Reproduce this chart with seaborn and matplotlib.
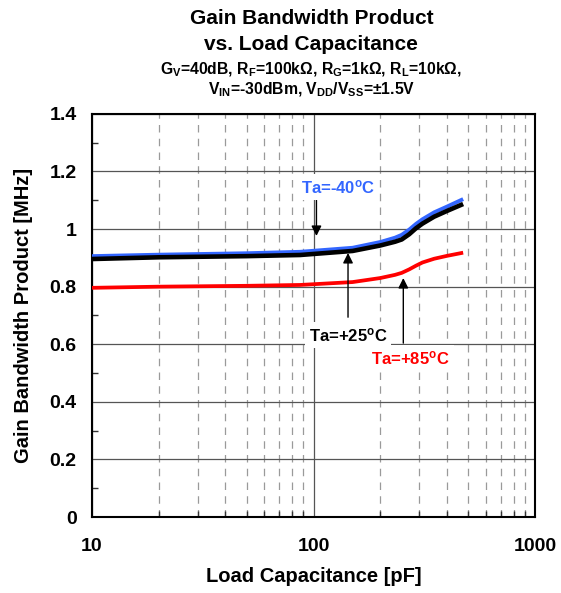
import numpy as np
import pandas as pd
import matplotlib
matplotlib.use("Agg")
import matplotlib.pyplot as plt
import seaborn as sns
from matplotlib.ticker import FixedLocator, NullFormatter

cap_pf = [10, 20, 50, 87, 150, 200, 233, 250, 270, 290, 310, 350, 400, 473]
gbp_m40 = [0.906, 0.911, 0.916, 0.921, 0.935, 0.955, 0.970, 0.980, 0.998, 1.018, 1.034, 1.058, 1.078, 1.104]
gbp_p25 = [0.896, 0.902, 0.906, 0.910, 0.924, 0.943, 0.956, 0.964, 0.982, 1.003, 1.019, 1.043, 1.063, 1.087]
gbp_p85 = [0.796, 0.800, 0.803, 0.806, 0.816, 0.830, 0.841, 0.848, 0.860, 0.873, 0.884, 0.897, 0.907, 0.918]
y_ticks = [0, 0.2, 0.4, 0.6, 0.8, 1.0, 1.2, 1.4]
y_tick_labels = ["0", "0.2", "0.4", "0.6", "0.8", "1", "1.2", "1.4"]
x_ticks = [10, 100, 1000]
x_tick_labels = ["10", "100", "1000"]

sns.set_theme(style="white")
plt.rcParams['font.family'] = ['Liberation Sans', 'DejaVu Sans']
plt.rcParams['font.weight'] = 'bold'
plt.rcParams['text.color'] = 'black'
plt.rcParams['axes.labelcolor'] = 'black'
plt.rcParams['xtick.color'] = 'black'
plt.rcParams['ytick.color'] = 'black'
plt.rcParams['mathtext.fontset'] = 'custom'
plt.rcParams['mathtext.rm'] = 'Liberation Sans:bold'
plt.rcParams['mathtext.it'] = 'Liberation Sans:bold'
plt.rcParams['mathtext.bf'] = 'Liberation Sans:bold'

df = pd.concat([
    pd.DataFrame({"cap": cap_pf, "gbp": gbp_p85, "temp": "+85"}),
    pd.DataFrame({"cap": cap_pf, "gbp": gbp_m40, "temp": "-40"}),
    pd.DataFrame({"cap": cap_pf, "gbp": gbp_p25, "temp": "+25"}),
])

fig = plt.figure(figsize=(5.61, 5.93), dpi=100)
ax = fig.add_axes([0.164, 0.128, 0.790, 0.680])
ax.set_xscale("log")

palette = {"+85": "#ff0000", "-40": "#3366ff", "+25": "#000000"}
widths = {"+85": 2.7, "-40": 2.8, "+25": 3.3}
for t in ["+85", "-40", "+25"]:
    sns.lineplot(data=df[df.temp == t], x="cap", y="gbp", color=palette[t],
                 lw=widths[t], ax=ax, legend=False, zorder=3)
for ln in ax.get_lines():
    ln.set_solid_joinstyle("round")
    ln.set_solid_capstyle("butt")

ax.set_xlim(10, 1000)
ax.set_ylim(0, 1.4)
ax.yaxis.set_major_locator(FixedLocator(y_ticks))
ax.set_yticklabels(y_tick_labels)
ax.yaxis.set_minor_locator(FixedLocator([0.1, 0.3, 0.5, 0.7, 0.9, 1.1, 1.3]))
ax.xaxis.set_major_locator(FixedLocator(x_ticks))
ax.set_xticklabels(x_tick_labels)
minor = [m * d for d in (10, 100) for m in range(2, 10)]
ax.xaxis.set_minor_locator(FixedLocator(minor))
ax.xaxis.set_minor_formatter(NullFormatter())
ax.yaxis.set_minor_formatter(NullFormatter())

ax.grid(which="major", axis="both", color="#555555", lw=0.9, ls="-", zorder=1)
ax.grid(which="minor", axis="x", color="#9a9a9a", lw=0.9, ls=(0, (6, 5)), zorder=1)
for s in ax.spines.values():
    s.set_color("black")
    s.set_linewidth(1.5)
ax.tick_params(axis="x", which="major", labelsize=14, length=0, pad=15, labelcolor="black")
ax.tick_params(axis="y", which="major", labelsize=14, length=0, pad=11, labelcolor="black")
ax.tick_params(axis="both", which="minor", direction="in", length=4, width=1.0,
               color="#333333", left=True, bottom=True, top=False, right=False)
for lab in ax.get_xticklabels() + ax.get_yticklabels():
    lab.set_fontweight("bold")

ax.set_xlabel("Load Capacitance [pF]", fontsize=14.5, fontweight="bold", labelpad=9, color="black")
ax.set_ylabel("Gain Bandwidth Product [MHz]", fontsize=14.5, fontweight="bold", labelpad=12, color="black")

fig.text(0.555, 0.968, "Gain Bandwidth Product", ha="center", va="center", fontsize=15, fontweight="bold")
fig.text(0.555, 0.925, "vs. Load Capacitance", ha="center", va="center", fontsize=15, fontweight="bold")
fig.text(0.555, 0.882, r"G$_\mathrm{V}$=40dB, R$_\mathrm{F}$=100k$\Omega$, R$_\mathrm{G}$=1k$\Omega$, R$_\mathrm{L}$=10k$\Omega$,",
         ha="center", va="center", fontsize=11.3, fontweight="bold")
fig.text(0.555, 0.848, r"V$_\mathrm{IN}$=-30dBm, V$_\mathrm{DD}$/V$_\mathrm{SS}$=$\pm$1.5V",
         ha="center", va="center", fontsize=11.3, fontweight="bold")

bbox = dict(facecolor="white", edgecolor="none", pad=3)
arrow = dict(arrowstyle="-|>", color="black", lw=1.0, mutation_scale=15, shrinkA=0, shrinkB=0)
ax.annotate("", xy=(103, 0.976), xytext=(103, 1.10), arrowprops=arrow, zorder=4)
ax.text(129, 1.146, r"Ta=-40$^\mathrm{o}$C", color="#3366ff", ha="center", va="center",
        fontsize=12, fontweight="bold", bbox=bbox, zorder=5)
ax.annotate("", xy=(143, 0.917), xytext=(143, 0.694), arrowprops=arrow, zorder=4)
ax.annotate("", xy=(254, 0.83), xytext=(254, 0.604), arrowprops=arrow, zorder=4)
ax.text(143, 0.632, r"Ta=+25$^\mathrm{o}$C", color="black", ha="center", va="center",
        fontsize=12, fontweight="bold", bbox=bbox, zorder=5)
ax.text(273, 0.552, r"Ta=+85$^\mathrm{o}$C", color="#ff0000", ha="center", va="center",
        fontsize=12, fontweight="bold", bbox=bbox, zorder=5)

fig.savefig("out.png", dpi=100)
